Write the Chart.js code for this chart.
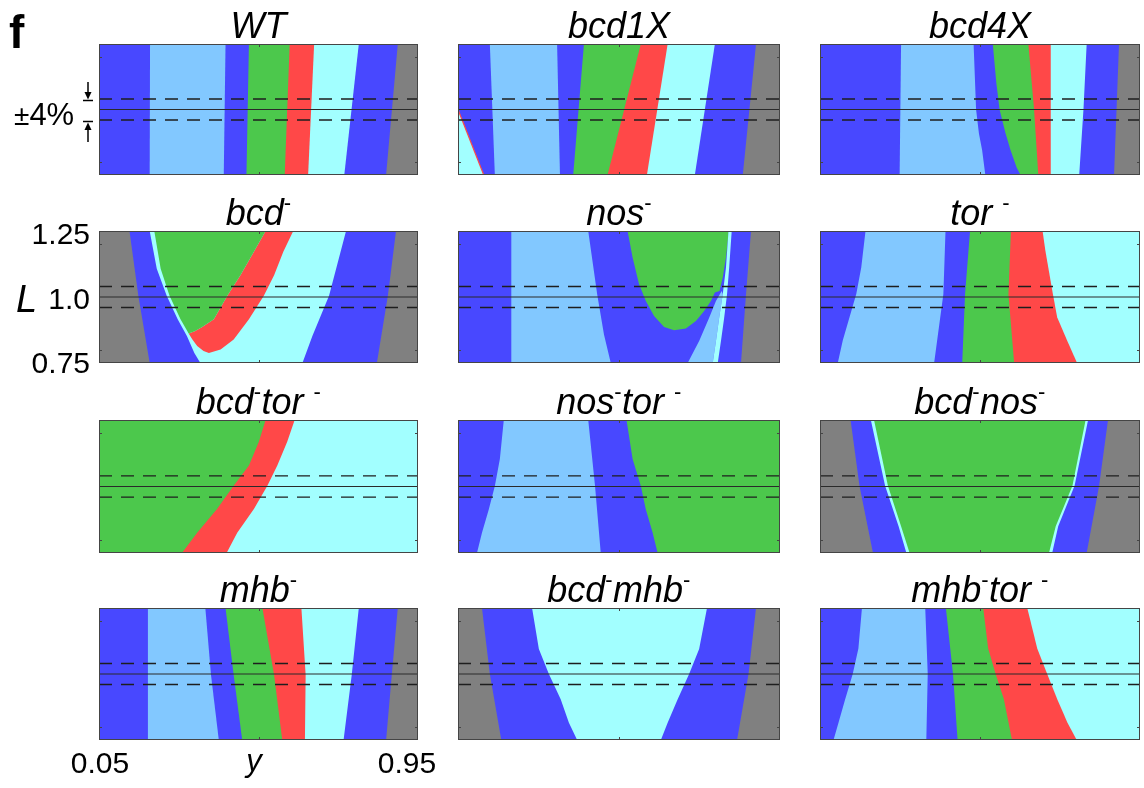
<!DOCTYPE html>
<html><head><meta charset="utf-8">
<script src="https://cdn.jsdelivr.net/npm/chart.js@4.4.1/dist/chart.umd.min.js"></script>
<style>
html,body{margin:0;padding:0;background:#fff;}
#wrap{position:relative;width:1144px;height:788px;overflow:hidden;background:#fff;}
canvas.p{position:absolute;display:block;}
#ov{position:absolute;left:0;top:0;font-family:"Liberation Sans",Arial,sans-serif;}
</style></head><body>
<div id="wrap"><svg id="ov" width="1144" height="788" xmlns="http://www.w3.org/2000/svg"></svg></div>
<script>
// ---------- axis ranges and reference values ----------
const Y_MIN = 0.05, Y_MAX = 0.95, L_MIN = 0.75, L_MAX = 1.25;
const REF_SOLID = 1.0;
const REF_DASHED = [1.04, 0.96];
const INNER_TICKS_Y = [0.5];
const INNER_TICKS_L = [0.8, 1.2];
const L_TICK_LABELS = ['1.25', '1.0', '0.75'];
const Y_TICK_LABELS = ['0.05', '0.95'];

// ---------- titles ('^' = superscript minus) ----------
const titles = ['WT','bcd1X','bcd4X','bcd^','nos^','tor ^','bcd^tor ^','nos^tor ^','bcd^nos^','mhb^','bcd^mhb^','mhb^tor ^'];

// ---------- region boundaries: [y, L] points from L=1.25 down to L=0.75 ----------
const WT_colors = ['B','LB','B','G','R','C','B','K'];
const WT_bounds = [
  [[0.194,1.25],[0.193,0.75]],
  [[0.407,1.25],[0.402,0.75]],
  [[0.473,1.25],[0.466,0.75]],
  [[0.588,1.25],[0.574,0.75]],
  [[0.657,1.25],[0.640,0.75]],
  [[0.783,1.25],[0.742,0.75]],
  [[0.893,1.25],[0.860,0.75]]
];

const bcd1X_colors = ['B','LB','B','G','R','C','B','K'];
const bcd1X_bounds = [
  [[0.139,1.25],[0.153,0.75]],
  [[0.327,1.25],[0.335,0.75]],
  [[0.402,1.25],[0.372,0.75]],
  [[0.561,1.25],[0.468,0.75]],
  [[0.636,1.25],[0.578,0.75]],
  [[0.768,1.25],[0.712,0.75]],
  [[0.883,1.25],[0.846,0.75]]
];
const bcd1X_corner = [[0.05,1.0],[0.122,0.75],[0.05,0.75]];
const bcd1X_cornerEdge = [[0.05,1.0],[0.122,0.75]];

const bcd4X_colors = ['B','LB','B','G','R','C','B','K'];
const bcd4X_bounds = [
  [[0.278,1.25],[0.274,0.75]],
  [[0.482,1.25],[0.489,1.0],[0.497,0.908],[0.506,0.844],[0.515,0.75]],
  [[0.536,1.25],[0.546,1.10],[0.555,1.0],[0.572,0.908],[0.586,0.844],[0.603,0.779],[0.614,0.75]],
  [[0.636,1.25],[0.652,1.0],[0.664,0.75]],
  [[0.699,1.25],[0.699,0.75]],
  [[0.800,1.25],[0.791,1.0],[0.779,0.75]],
  [[0.891,1.25],[0.877,0.75]]
];

const bcdM_layers = [
  ['K', [[0.05,1.25],[0.95,1.25],[0.95,0.75],[0.05,0.75]]],
  ['B', [[0.136,1.25],[0.161,1.005],[0.193,0.75],[0.834,0.75],[0.865,1.005],[0.888,1.25]]],
  ['C', [[0.193,1.25],[0.213,1.107],[0.241,1.005],[0.272,0.916],[0.298,0.852],[0.319,0.788],[0.336,0.75],[0.624,0.75],[0.652,0.852],[0.699,1.005],[0.747,1.25]]],
  ['R', [[0.520,1.25],[0.487,1.171],[0.449,1.082],[0.412,1.005],[0.374,0.916],[0.340,0.885],[0.320,0.870],[0.303,0.862],[0.313,0.840],[0.327,0.814],[0.345,0.795],[0.360,0.788],[0.393,0.801],[0.430,0.839],[0.473,0.916],[0.515,1.005],[0.544,1.082],[0.570,1.171],[0.598,1.25]]],
  ['G', [[0.206,1.25],[0.224,1.107],[0.249,1.005],[0.280,0.916],[0.303,0.862],[0.320,0.870],[0.340,0.885],[0.374,0.916],[0.412,1.005],[0.449,1.082],[0.487,1.171],[0.520,1.25]]]
];

const nosM_layers = [
  ['K', [[0.05,1.25],[0.95,1.25],[0.95,0.75],[0.05,0.75]]],
  ['B', [[0.05,1.25],[0.869,1.25],[0.855,1.010],[0.841,0.75],[0.05,0.75]]],
  ['LB', [[0.199,1.25],[0.414,1.25],[0.439,1.010],[0.458,0.858],[0.477,0.75],[0.199,0.75]]],
  ['LB', [[0.692,0.75],[0.724,0.833],[0.752,0.921],[0.771,0.985],[0.787,1.023],[0.790,1.010],[0.780,0.921],[0.771,0.833],[0.762,0.75]]],
  ['G', [[0.524,1.25],[0.538,1.150],[0.556,1.048],[0.575,0.985],[0.598,0.928],[0.626,0.886],[0.654,0.874],[0.687,0.881],[0.715,0.909],[0.738,0.947],[0.757,0.985],[0.768,1.017],[0.781,1.023],[0.790,1.074],[0.799,1.150],[0.807,1.25]]],
  ['C', [[0.806,1.25],[0.799,1.112],[0.790,1.010],[0.780,0.921],[0.771,0.833],[0.762,0.75],[0.776,0.75],[0.785,0.833],[0.794,0.921],[0.802,1.010],[0.808,1.112],[0.815,1.25]]]
];

const torM_colors = ['B','LB','B','G','R','C'];
const torM_bounds = [
  [[0.178,1.25],[0.166,1.112],[0.152,1.011],[0.133,0.923],[0.114,0.835],[0.100,0.75]],
  [[0.403,1.25],[0.397,1.011],[0.371,0.75]],
  [[0.472,1.25],[0.458,1.011],[0.450,0.75]],
  [[0.587,1.25],[0.580,1.011],[0.596,0.75]],
  [[0.676,1.25],[0.684,1.174],[0.705,1.011],[0.717,0.923],[0.745,0.835],[0.773,0.75]]
];

const bcdTor_colors = ['G','R','C'];
const bcdTor_bounds = [
  [[0.520,1.25],[0.501,1.168],[0.473,1.079],[0.430,1.003],[0.383,0.915],[0.327,0.826],[0.284,0.75]],
  [[0.602,1.25],[0.581,1.168],[0.553,1.079],[0.525,1.003],[0.487,0.915],[0.440,0.826],[0.410,0.75]]
];

const nosTor_colors = ['B','LB','B','G'];
const nosTor_bounds = [
  [[0.178,1.25],[0.167,1.103],[0.153,1.002],[0.136,0.914],[0.117,0.826],[0.103,0.75]],
  [[0.414,1.25],[0.433,1.002],[0.449,0.75]],
  [[0.521,1.25],[0.538,1.103],[0.561,1.002],[0.575,0.914],[0.594,0.826],[0.608,0.75]]
];

const bcdNos_colors = ['K','B','C','G','C','B','K'];
const bcdNos_bounds = [
  [[0.136,1.25],[0.161,1.003],[0.199,0.75]],
  [[0.193,1.25],[0.233,1.003],[0.271,0.851],[0.293,0.75]],
  [[0.202,1.25],[0.241,1.003],[0.278,0.851],[0.302,0.75]],
  [[0.797,1.25],[0.760,1.003],[0.713,0.851],[0.694,0.75]],
  [[0.804,1.25],[0.766,1.003],[0.720,0.851],[0.703,0.75]],
  [[0.860,1.25],[0.835,1.003],[0.800,0.75]]
];

const mhbM_colors = ['B','LB','B','G','R','C','B','K'];
const mhbM_bounds = [
  [[0.188,1.25],[0.188,0.75]],
  [[0.350,1.25],[0.366,0.996],[0.388,0.75]],
  [[0.407,1.25],[0.430,0.996],[0.454,0.75]],
  [[0.511,1.25],[0.544,0.996],[0.567,0.75]],
  [[0.621,1.25],[0.633,0.996],[0.631,0.75]],
  [[0.783,1.25],[0.763,0.996],[0.740,0.75]],
  [[0.893,1.25],[0.876,0.996],[0.860,0.75]]
];

const bcdMhb_colors = ['K','B','C','B','K'];
const bcdMhb_bounds = [
  [[0.117,1.25],[0.139,1.0],[0.171,0.75]],
  [[0.257,1.25],[0.276,1.095],[0.304,1.0],[0.337,0.904],[0.360,0.815],[0.383,0.75]],
  [[0.746,1.25],[0.724,1.095],[0.696,1.0],[0.664,0.904],[0.636,0.815],[0.617,0.75]],
  [[0.883,1.25],[0.862,1.0],[0.830,0.75]]
];

const mhbTor_colors = ['B','LB','B','G','R','C'];
const mhbTor_bounds = [
  [[0.168,1.25],[0.158,1.097],[0.142,1.0],[0.121,0.905],[0.102,0.815],[0.088,0.75]],
  [[0.346,1.25],[0.353,1.0],[0.349,0.75]],
  [[0.404,1.25],[0.424,1.0],[0.437,0.75]],
  [[0.509,1.25],[0.523,1.097],[0.544,1.0],[0.567,0.905],[0.590,0.75]],
  [[0.633,1.25],[0.661,1.097],[0.689,1.0],[0.717,0.905],[0.746,0.815],[0.772,0.75]]
];

// ---------- styles / layout ----------
const COLORS = {B:'#4848FF', LB:'#82C8FF', G:'#4CC84C', R:'#FF4848', C:'#A2FFFF', K:'#808080'};
const COL_X = [99, 458, 820], COL_W = [319, 322, 320];
const ROW_Y = [44, 231, 420, 608], ROW_H = [131, 132, 133, 132];

function bandLayers(colors, bounds) {
  const layers = [[colors[0], [[Y_MIN,L_MAX],[Y_MAX,L_MAX],[Y_MAX,L_MIN],[Y_MIN,L_MIN]]]];
  bounds.forEach((b, i) => layers.push([colors[i+1], [...b, [Y_MAX,L_MIN], [Y_MAX,L_MAX]]]));
  return layers;
}

const PANELS = [
  {layers: bandLayers(WT_colors, WT_bounds)},
  {layers: [...bandLayers(bcd1X_colors, bcd1X_bounds), ['C', bcd1X_corner]], lines: [['R', bcd1X_cornerEdge]]},
  {layers: bandLayers(bcd4X_colors, bcd4X_bounds)},
  {layers: bcdM_layers},
  {layers: nosM_layers},
  {layers: bandLayers(torM_colors, torM_bounds)},
  {layers: bandLayers(bcdTor_colors, bcdTor_bounds)},
  {layers: bandLayers(nosTor_colors, nosTor_bounds)},
  {layers: bandLayers(bcdNos_colors, bcdNos_bounds)},
  {layers: bandLayers(mhbM_colors, mhbM_bounds)},
  {layers: bandLayers(bcdMhb_colors, bcdMhb_bounds)},
  {layers: bandLayers(mhbTor_colors, mhbTor_bounds)}
];

const framePlugin = {
  id: 'frame',
  afterDraw(chart) {
    const {ctx, chartArea: a, scales: {x, y}} = chart;
    ctx.save();
    ctx.strokeStyle = '#454545';
    ctx.lineWidth = 1;
    ctx.strokeRect(a.left + 0.5, a.top + 0.5, a.right - a.left - 1, a.bottom - a.top - 1);
    ctx.beginPath();
    INNER_TICKS_Y.forEach(v => {
      const px = Math.round(x.getPixelForValue(v)) + 0.5;
      ctx.moveTo(px, a.top); ctx.lineTo(px, a.top + 3);
      ctx.moveTo(px, a.bottom); ctx.lineTo(px, a.bottom - 3);
    });
    INNER_TICKS_L.forEach(v => {
      const py = Math.round(y.getPixelForValue(v)) + 0.5;
      ctx.moveTo(a.left, py); ctx.lineTo(a.left + 3, py);
      ctx.moveTo(a.right, py); ctx.lineTo(a.right - 3, py);
    });
    ctx.stroke();
    ctx.restore();
  }
};

const wrap = document.getElementById('wrap');
PANELS.forEach((p, idx) => {
  const col = idx % 3, row = Math.floor(idx / 3);
  const cv = document.createElement('canvas');
  cv.className = 'p';
  cv.width = COL_W[col]; cv.height = ROW_H[row];
  cv.style.left = COL_X[col] + 'px'; cv.style.top = ROW_Y[row] + 'px';
  cv.style.width = COL_W[col] + 'px'; cv.style.height = ROW_H[row] + 'px';
  wrap.insertBefore(cv, document.getElementById('ov'));
  const n = p.layers.length;
  const datasets = p.layers.map(([c, pts], i) => ({
    data: pts.map(([yy, L]) => ({x: yy, y: L})),
    showLine: true, fill: 'shape',
    backgroundColor: COLORS[c], borderColor: 'rgba(0,0,0,0)', borderWidth: 0,
    borderDash: [6, 0], pointRadius: 0, tension: 0, order: n - i + 10
  }));
  (p.lines || []).forEach(([c, pts]) => datasets.push({
    data: pts.map(([yy, L]) => ({x: yy, y: L})),
    showLine: true, fill: false, borderColor: COLORS[c], borderWidth: 1.2, pointRadius: 0, order: 5
  }));
  REF_DASHED.forEach(L => datasets.push({
    data: [{x: Y_MIN, y: L}, {x: Y_MAX, y: L}],
    showLine: true, fill: false, borderColor: '#1e1e1e', borderWidth: 1.4, borderDash: [13, 9], pointRadius: 0, order: 1
  }));
  datasets.push({
    data: [{x: Y_MIN, y: REF_SOLID}, {x: Y_MAX, y: REF_SOLID}],
    showLine: true, fill: false, borderColor: '#2a2a2a', borderWidth: 1.2, pointRadius: 0, order: 0
  });
  new Chart(cv, {
    type: 'scatter',
    data: {datasets},
    options: {
      responsive: false, animation: false, devicePixelRatio: 1, events: [],
      layout: {padding: 0},
      plugins: {legend: {display: false}, tooltip: {enabled: false}, title: {display: false}},
      scales: {
        x: {type: 'linear', min: Y_MIN, max: Y_MAX, display: false},
        y: {type: 'linear', min: L_MIN, max: L_MAX, display: false}
      }
    },
    plugins: [framePlugin]
  });
});

// ---------- text overlay ----------
const NS = 'http://www.w3.org/2000/svg';
const svg = document.getElementById('ov');
function el(tag, attrs, text) {
  const e = document.createElementNS(NS, tag);
  for (const k in attrs) e.setAttribute(k, attrs[k]);
  if (text !== undefined) e.textContent = text;
  svg.appendChild(e);
  return e;
}
function tsp(parent, attrs, text) {
  const e = document.createElementNS(NS, 'tspan');
  for (const k in attrs) e.setAttribute(k, attrs[k]);
  e.textContent = text;
  parent.appendChild(e);
}
titles.forEach((t, idx) => {
  const col = idx % 3, row = Math.floor(idx / 3);
  const cx = COL_X[col] + COL_W[col] / 2;
  const by = ROW_Y[row] - 6;
  const txt = el('text', {x: cx, y: by, 'text-anchor': 'middle', 'font-size': 36, 'font-style': 'italic', fill: '#000', style: 'white-space:pre'});
  const parts = t.split('^');
  parts.forEach((s, i) => {
    if (s) tsp(txt, {}, s);
    if (i < parts.length - 1) {
      tsp(txt, {dy: -15, 'font-size': 22, 'font-style': 'normal'}, '-');
      tsp(txt, {dy: 15, 'font-size': 4}, '\u200a');
    }
  });
});
el('text', {x: 9, y: 48, 'font-size': 46, 'font-weight': 'bold', fill: '#000'}, 'f');
const pm = el('text', {x: 14, y: 125, 'font-size': 31, fill: '#000'});
tsp(pm, {'font-size': 28}, '\u00b1');
tsp(pm, {}, '4%');
// arrows marking the +-4% band
el('line', {x1: 88, y1: 82, x2: 88, y2: 93, stroke: '#000', 'stroke-width': 1.5});
el('polygon', {points: '84.5,92 91.5,92 88,99.5', fill: '#000'});
el('line', {x1: 83, y1: 100.5, x2: 93, y2: 100.5, stroke: '#000', 'stroke-width': 1.5});
el('line', {x1: 83, y1: 121.5, x2: 93, y2: 121.5, stroke: '#000', 'stroke-width': 1.5});
el('polygon', {points: '84.5,130 91.5,130 88,122.5', fill: '#000'});
el('line', {x1: 88, y1: 129, x2: 88, y2: 142, stroke: '#000', 'stroke-width': 1.5});
// L axis labels (bcd- panel)
el('text', {x: 90, y: 244, 'text-anchor': 'end', 'font-size': 30}, L_TICK_LABELS[0]);
el('text', {x: 90, y: 309, 'text-anchor': 'end', 'font-size': 30}, L_TICK_LABELS[1]);
el('text', {x: 90, y: 373, 'text-anchor': 'end', 'font-size': 30}, L_TICK_LABELS[2]);
el('text', {x: 16, y: 312, 'font-size': 38, 'font-style': 'italic'}, 'L');
// y axis labels (mhb- panel)
el('text', {x: 100, y: 773, 'text-anchor': 'middle', 'font-size': 30}, Y_TICK_LABELS[0]);
el('text', {x: 407, y: 773, 'text-anchor': 'middle', 'font-size': 30}, Y_TICK_LABELS[1]);
el('text', {x: 254, y: 771, 'text-anchor': 'middle', 'font-size': 31, 'font-style': 'italic'}, 'y');
</script>
</body></html>
